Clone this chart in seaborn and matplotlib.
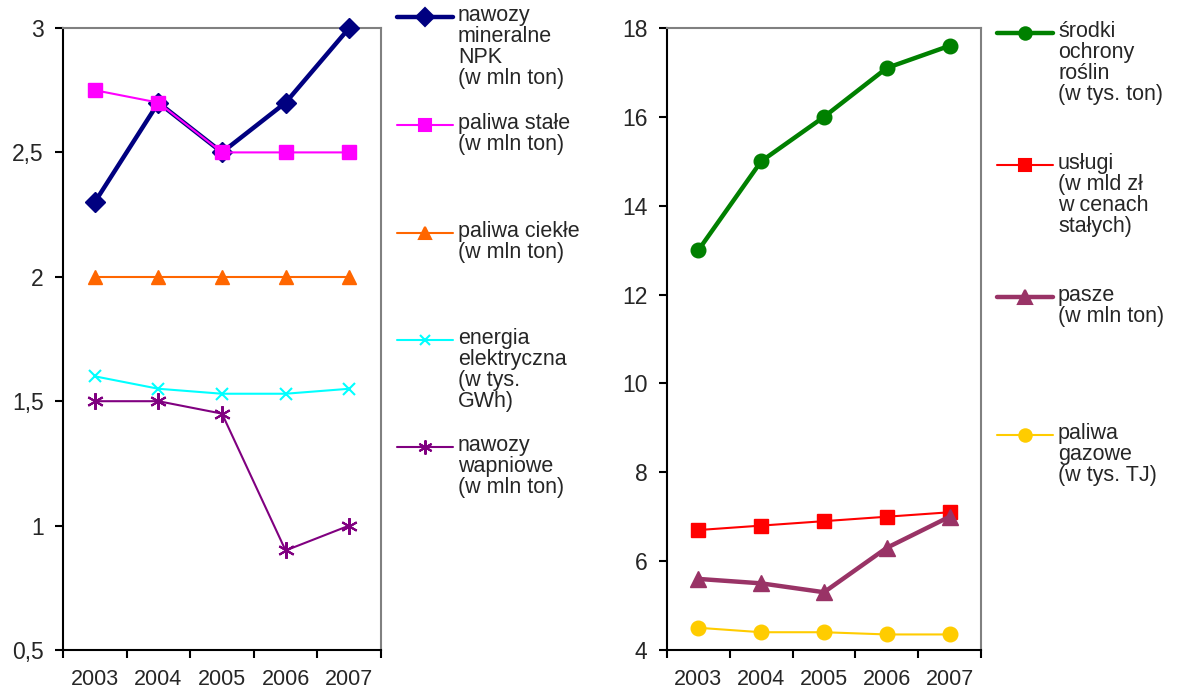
import numpy as np
import pandas as pd
import seaborn as sns
import matplotlib.pyplot as plt
from matplotlib.lines import Line2D
from matplotlib.ticker import FuncFormatter

sns.set_style("white")
plt.rcParams['font.family'] = ['Liberation Sans', 'DejaVu Sans']

# data
years = ['2003', '2004', '2005', '2006', '2007']

npk = [2.3, 2.7, 2.5, 2.7, 3.0]
paliwa_stale = [2.75, 2.7, 2.5, 2.5, 2.5]
paliwa_ciekle = [2.0, 2.0, 2.0, 2.0, 2.0]
energia = [1.6, 1.55, 1.53, 1.53, 1.55]
wapniowe = [1.5, 1.5, 1.45, 0.9, 1.0]

srodki = [13.0, 15.0, 16.0, 17.1, 17.6]
uslugi = [6.7, 6.8, 6.9, 7.0, 7.1]
pasze = [5.6, 5.5, 5.3, 6.3, 7.0]
paliwa_gazowe = [4.5, 4.4, 4.4, 4.35, 4.35]

left_labels = ['nawozy\nmineralne\nNPK\n(w mln ton)', 'paliwa stałe\n(w mln ton)',
               'paliwa ciekłe\n(w mln ton)', 'energia\nelektryczna\n(w tys.\nGWh)',
               'nawozy\nwapniowe\n(w mln ton)']
right_labels = ['środki\nochrony\nroślin\n(w tys. ton)', 'usługi\n(w mld zł\nw cenach\nstałych)',
                'pasze\n(w mln ton)', 'paliwa\ngazowe\n(w tys. TJ)']

# styles: color, marker, markersize, linewidth
left_series = [
    (npk, '#000080', 'D', 10.5, 3.2),
    (paliwa_stale, '#FF00FF', 's', 10, 1.5),
    (paliwa_ciekle, '#FF6600', '^', 10.5, 1.5),
    (energia, '#00FFFF', 'x', 9, 1.5),
    (wapniowe, '#800080', (6, 2, 0), 12, 1.5),
]
right_series = [
    (srodki, '#008000', 'o', 10.5, 3.2),
    (uslugi, '#FF0000', 's', 10, 1.5),
    (pasze, '#993366', '^', 11.5, 3.2),
    (paliwa_gazowe, '#FFCC00', 'o', 10.5, 1.5),
]

fig = plt.figure(figsize=(11.79, 6.93), dpi=100)
ax1 = fig.add_axes([63 / 1179, 1 - 650 / 693, 318 / 1179, 622 / 693])
ax2 = fig.add_axes([667 / 1179, 1 - 650 / 693, 314 / 1179, 622 / 693])


def draw(ax, series, labels, ylim, yticks, fmt, leg_x, leg_ys):
    x = np.arange(len(years))
    for (vals, color, marker, ms, lw), lab in zip(series, labels):
        df = pd.DataFrame({'x': x, 'y': vals})
        sns.lineplot(data=df, x='x', y='y', ax=ax, color=color, marker=marker,
                     markersize=ms, linewidth=lw, markeredgecolor=color,
                     markeredgewidth=1.5 if marker in ('x', (6, 2, 0)) else 1,
                     clip_on=False, zorder=3)
    ax.set_xlim(-0.5, len(years) - 0.5)
    ax.set_ylim(*ylim)
    ax.set_yticks(yticks)
    ax.yaxis.set_major_formatter(FuncFormatter(fmt))
    ax.set_xticks(np.arange(len(years) + 1) - 0.5)
    ax.set_xticklabels([])
    ax.set_xticks(x, minor=True)
    ax.set_xticklabels(years, minor=True)
    ax.tick_params(axis='x', which='major', direction='out', length=6, width=1.5, color='black', bottom=True)
    ax.tick_params(axis='x', which='minor', length=0, pad=14, labelsize=15.5)
    ax.tick_params(axis='y', direction='out', length=6, width=1.5, color='black', left=True, pad=8, labelsize=16.5)
    ax.set_xlabel('')
    ax.set_ylabel('')
    for s in ['left', 'bottom']:
        ax.spines[s].set_color('black')
        ax.spines[s].set_linewidth(1.5)
    for s in ['top', 'right']:
        ax.spines[s].set_color('#808080')
        ax.spines[s].set_linewidth(1.5)
    # legend drawn Excel-style: handle on the first text line
    for (vals, color, marker, ms, lw), lab, ly in zip(series, labels, leg_ys):
        yf = 1 - ly / 693
        fig.add_artist(Line2D([leg_x / 1179, (leg_x + 56) / 1179], [yf, yf], color=color, linewidth=lw))
        fig.add_artist(Line2D([(leg_x + 28) / 1179], [yf], color=color, marker=marker, markersize=ms * 0.85,
                              markeredgecolor=color, markeredgewidth=1.5, linestyle='none'))
        fig.text((leg_x + 61) / 1179, 1 - (ly - 12) / 693, lab, fontsize=15.5, va='top', ha='left',
                 linespacing=1.0)


draw(ax1, left_series, left_labels, (0.5, 3.0), [0.5, 1, 1.5, 2, 2.5, 3],
     lambda v, p: ('%g' % v).replace('.', ','), 397, [17, 125, 233, 340, 447])
draw(ax2, right_series, right_labels, (4, 18), [4, 6, 8, 10, 12, 14, 16, 18],
     lambda v, p: '%d' % v, 997, [33, 165, 297, 435])

fig.savefig('out.png', dpi=100)
